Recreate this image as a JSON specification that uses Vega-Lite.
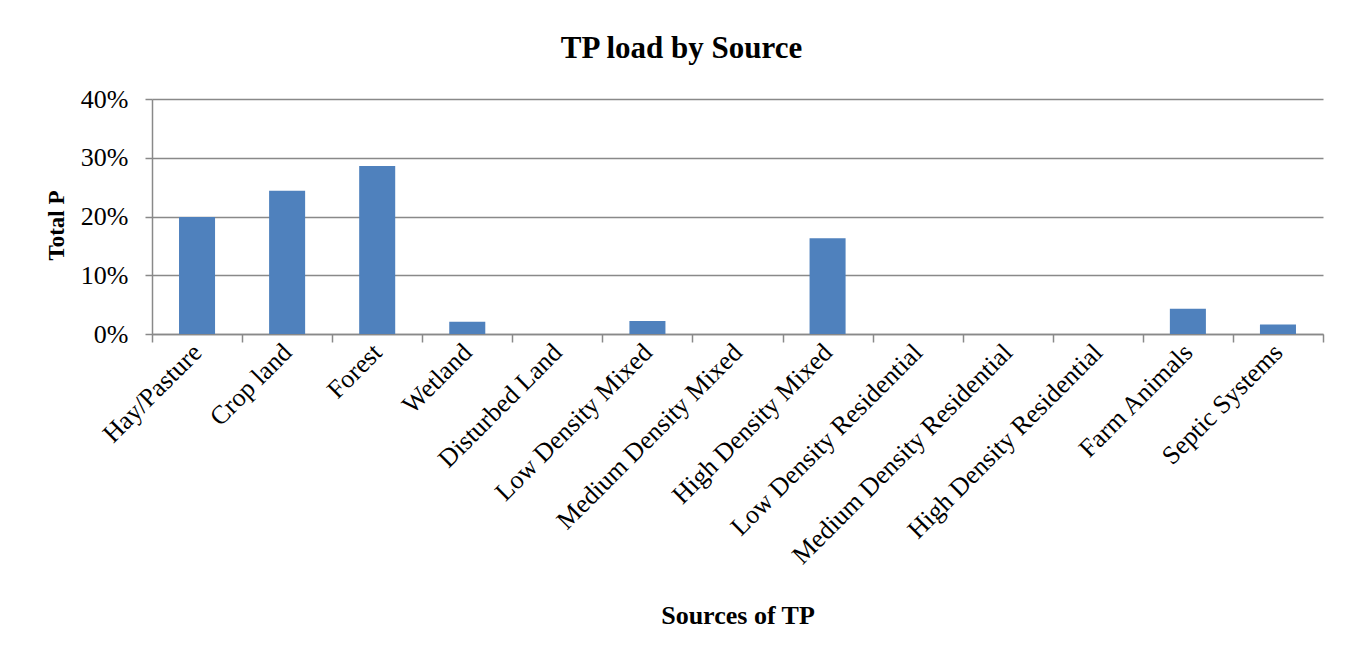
{
  "$schema": "https://vega.github.io/schema/vega-lite/v6.json",
  "autosize": {"type": "none"},
  "width": 1171,
  "height": 235,
  "padding": {"left": 152, "top": 99, "right": 30, "bottom": 322},
  "background": "white",
  "title": {
    "text": "TP load by Source",
    "font": "Liberation Serif",
    "fontSize": 31,
    "fontWeight": "bold",
    "color": "black",
    "anchor": "middle",
    "frame": "group",
    "dx": -56,
    "baseline": "alphabetic",
    "offset": -3
  },
  "config": {
    "view": {"stroke": null},
    "font": "Liberation Serif"
  },
  "data": {
    "values": [
      {"source": "Hay/Pasture", "tp": 0.199},
      {"source": "Crop land", "tp": 0.244},
      {"source": "Forest", "tp": 0.286},
      {"source": "Wetland", "tp": 0.021},
      {"source": "Disturbed Land", "tp": 0.0},
      {"source": "Low Density Mixed", "tp": 0.022},
      {"source": "Medium Density Mixed", "tp": 0.0},
      {"source": "High Density Mixed", "tp": 0.163},
      {"source": "Low Density Residential", "tp": 0.0},
      {"source": "Medium Density Residential", "tp": 0.0},
      {"source": "High Density Residential", "tp": 0.0},
      {"source": "Farm Animals", "tp": 0.043},
      {"source": "Septic Systems", "tp": 0.016}
    ]
  },
  "mark": {"type": "bar", "color": "#4F81BD", "width": {"band": 0.4}},
  "encoding": {
    "x": {
      "field": "source",
      "type": "nominal",
      "sort": null,
      "scale": {"paddingInner": 0, "paddingOuter": 0},
      "axis": {
        "title": "Sources of TP",
        "titleFont": "Liberation Serif",
        "titleFontSize": 26,
        "titleFontWeight": "bold",
        "titleColor": "black",
        "titleY": 289,
        "titleBaseline": "alphabetic",
        "labelAngle": -45,
        "labelAlign": "right",
        "labelBaseline": "middle",
        "labelFont": "Liberation Serif",
        "labelFontSize": 26,
        "labelColor": "black",
        "labelPadding": 6,
        "labelLimit": 0,
        "tickBand": "extent",
        "tickSize": 8,
        "tickColor": "#898989",
        "tickWidth": 1.5,
        "domainColor": "#898989",
        "domainWidth": 1.5,
        "grid": false
      }
    },
    "y": {
      "field": "tp",
      "type": "quantitative",
      "scale": {"domain": [0, 0.4], "nice": false},
      "axis": {
        "title": "Total P",
        "titleFont": "Liberation Serif",
        "titleFontSize": 23,
        "titleFontWeight": "bold",
        "titleColor": "black",
        "titleX": -89,
        "titleY": 126,
        "titleAngle": -90,
        "titleBaseline": "alphabetic",
        "titleAlign": "center",
        "values": [0, 0.1, 0.2, 0.3, 0.4],
        "format": ".0%",
        "labelFont": "Liberation Serif",
        "labelFontSize": 26,
        "labelColor": "black",
        "labelPadding": 17,
        "tickSize": 7,
        "tickColor": "#898989",
        "tickWidth": 1.5,
        "domainColor": "#898989",
        "domainWidth": 1.5,
        "grid": true,
        "gridColor": "#898989",
        "gridWidth": 1.5
      }
    }
  }
}
